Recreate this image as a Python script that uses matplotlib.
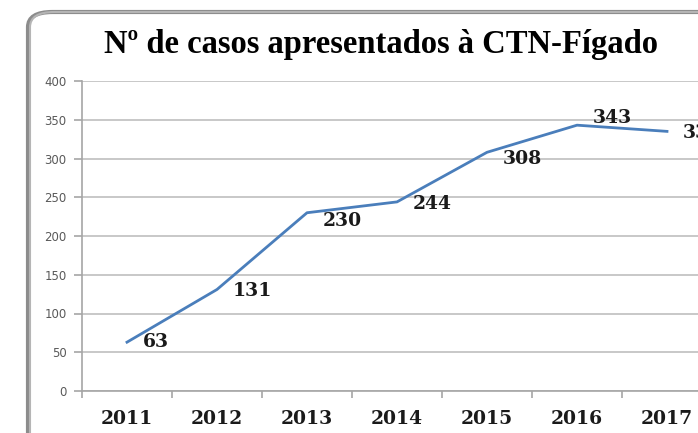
import matplotlib
matplotlib.use('Agg')
import matplotlib.pyplot as plt
from matplotlib.patches import FancyBboxPatch

# dados do gráfico
anos = ['2011', '2012', '2013', '2014', '2015', '2016', '2017']
casos = [63, 131, 230, 244, 308, 343, 335]
titulo = 'Nº de casos apresentados à CTN-Fígado'

W, H = 698, 433
fig = plt.figure(figsize=(W / 100, H / 100), dpi=100)
fig.patch.set_facecolor('white')

# moldura arredondada do Excel (cortada à direita e em baixo)
for dx, cor, lw in [(-2, '#8c8c8c', 3.0), (0, '#b5b5b5', 1.5)]:
    moldura = FancyBboxPatch(((30 + dx) / W, -40 / H), 740 / W, (421 + 40) / H,
                             boxstyle='round,pad=0,rounding_size=0.035',
                             transform=fig.transFigure, facecolor='none',
                             edgecolor=cor, linewidth=lw, zorder=0)
    fig.patches.append(moldura)

# eixo: 90 px por categoria, começando em x=82
ax = fig.add_axes([82 / W, 42 / H, 630 / W, 310 / H])
ax.set_facecolor('none')
x = list(range(len(anos)))
ax.plot(x, casos, color='#4a7ebb', linewidth=2.0, zorder=3, clip_on=False)

ax.set_xlim(-0.5, 6.5)
ax.set_ylim(0, 400)
ax.set_yticks(range(0, 401, 50))
ax.yaxis.grid(True, color='#c4c4c4', linewidth=1.3)
ax.set_axisbelow(True)

ax.set_xticks(x)
ax.set_xticklabels(anos, fontfamily='DejaVu Serif', fontweight='bold', fontsize=13.5,
                   color='#1a1a1a')
ax.set_xticks([i - 0.5 for i in range(len(anos) + 1)], minor=True)
ax.tick_params(axis='x', which='major', length=0, pad=14)
ax.tick_params(axis='x', which='minor', length=5, color='#a6a6a6', width=1.2)
ax.tick_params(axis='y', length=6, color='#a6a6a6', width=1.2, labelsize=8.5,
               labelcolor='#595959', pad=5)
for lbl in ax.get_yticklabels():
    lbl.set_fontfamily('DejaVu Sans')

for s in ['top', 'right']:
    ax.spines[s].set_visible(False)
for s in ['left', 'bottom']:
    ax.spines[s].set_color('#a6a6a6')
    ax.spines[s].set_linewidth(1.2)

# rótulos de dados à direita de cada ponto (deslocamento vertical em px)
desloc_y = [0, -2, -8, -2, -7, 7, -2]
for xi, v, dy in zip(x, casos, desloc_y):
    ax.annotate(str(v), (xi, v), xytext=(11.5, dy * 0.72), textcoords='offset points',
                ha='left', va='center', fontfamily='DejaVu Serif', color='#1a1a1a',
                fontweight='bold', fontsize=13.5, annotation_clip=False)

fig.text(381 / W, 1 - 45 / H, titulo, ha='center', va='center',
         fontfamily='Liberation Serif', fontweight='bold', fontsize=23.5)

fig.savefig('out.png', dpi=100)
